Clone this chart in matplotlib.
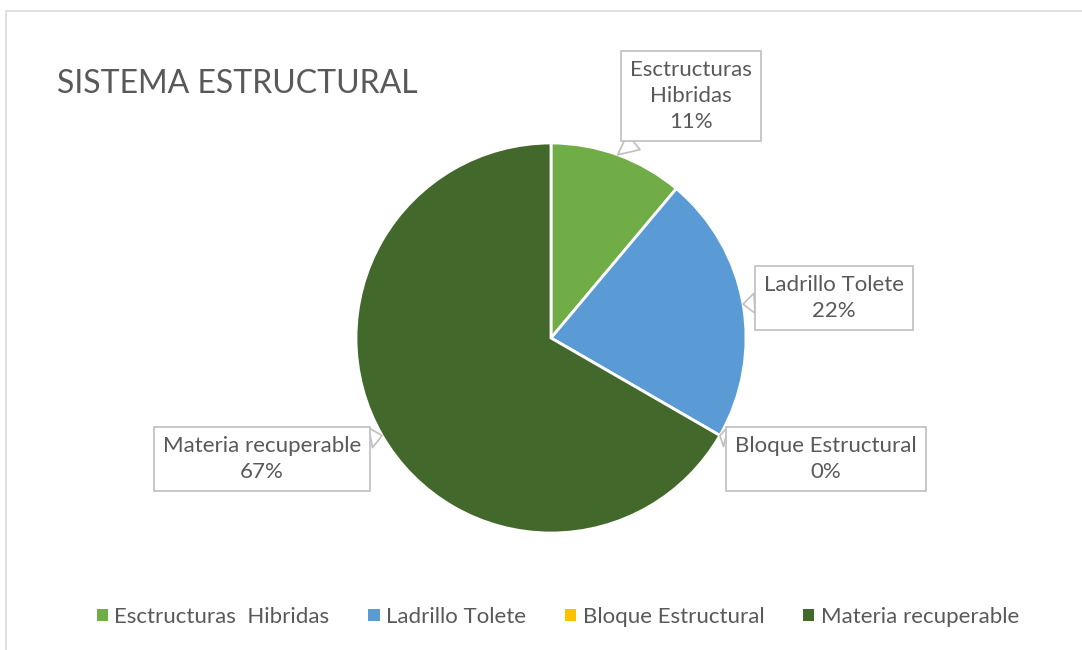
import numpy as np
from matplotlib import pyplot as plt
from matplotlib.patches import Rectangle

# data
labels = ["Esctructuras  Hibridas", "Ladrillo Tolete", "Bloque Estructural", "Materia recuperable"]
box_labels = ["Esctructuras\nHibridas", "Ladrillo Tolete", "Bloque Estructural", "Materia recuperable"]
values = [1, 2, 0, 6]
colors = ["#70AD47", "#5B9BD5", "#FFC000", "#43682B"]

TEXT = "#595959"
plt.rcParams['font.family'] = ['Lato', 'DejaVu Sans']

W, H = 1082, 650
fig = plt.figure(figsize=(W / 100, H / 100), dpi=100)

# chart border
fig.patches.append(Rectangle((6 / W, -0.01), 1.1, (H - 11) / H + 0.01, transform=fig.transFigure,
                             fill=False, ec="#d9d9d9", lw=1.2))

cx, cy, r = 551, H - 338, 195
ax = fig.add_axes([(cx - r) / W, (cy - r) / H, 2 * r / W, 2 * r / H])
wedges, _ = ax.pie(values, colors=colors, startangle=90, counterclock=False,
                   wedgeprops=dict(edgecolor="white", linewidth=2))
ax.set_xlim(-1, 1)
ax.set_ylim(-1, 1)
ax.set_aspect("equal")
ax.axis("off")

fig.text(57 / W, (H - 84) / H, "SISTEMA ESTRUCTURAL", fontsize=23, color=TEXT,
         ha="left", va="center")

# callout labels
total = sum(values)
box_pos = [(691, 96), (834, 298), (826, 459), (262, 459)]
start = 90.0
for i, v in enumerate(values):
    sweep = 360.0 * v / total
    mid = np.deg2rad(start - sweep / 2)
    start -= sweep
    pct = round(100 * v / total)
    tx, ty = box_pos[i]
    ax.annotate(f"{box_labels[i]}\n{pct}%", xy=(np.cos(mid), np.sin(mid)),
                xycoords="data", xytext=(tx, H - ty), textcoords="figure pixels",
                ha="center", va="center", fontsize=16, color=TEXT, linespacing=1.4,
                bbox=dict(boxstyle="square,pad=0.4", fc="white", ec="#bfbfbf", lw=1.2),
                arrowprops=dict(arrowstyle="wedge,tail_width=0.9,shrink_factor=0.5",
                                fc="white", ec="#bfbfbf", lw=1.2, shrinkA=0, shrinkB=0),
                annotation_clip=False)

leg = fig.legend(wedges, labels, loc="center", bbox_to_anchor=(558 / W, (H - 617) / H),
                 ncol=4, frameon=False, fontsize=16, handlelength=0.5, handleheight=0.5,
                 handletextpad=0.3, columnspacing=1.75, labelcolor=TEXT)
for h in leg.legend_handles:
    h.set_edgecolor("none")

fig.savefig("out.png", dpi=100)
